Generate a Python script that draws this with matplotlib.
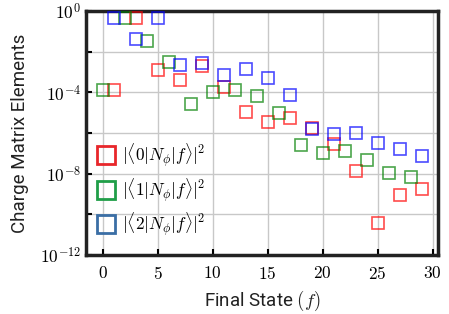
import matplotlib.pyplot as plt
from matplotlib.lines import Line2D
import numpy as np

plt.rcParams.update({'font.family': 'Roboto', 'mathtext.fontset': 'cm', 'font.size': 12})

# log10 of the matrix elements
f_red = [1, 3, 5, 7, 9, 11, 13, 15, 17, 19, 21, 23, 25, 27, 29]
log_red = [-3.87, -0.36, -2.89, -3.39, -2.69, -3.75, -4.95, -5.46, -5.26, -5.75,
           -6.56, -7.87, -10.44, -9.05, -8.74]
f_green = [0, 2, 4, 6, 8, 10, 12, 14, 16, 18, 20, 22, 24, 26, 28]
log_green = [-3.87, -0.36, -1.49, -2.51, -4.59, -3.98, -3.87, -4.20, -5.0, -6.59,
             -6.98, -6.87, -7.33, -7.95, -8.18]
f_blue = [1, 3, 5, 7, 9, 11, 13, 15, 17, 19, 21, 23, 25, 27, 29]
log_blue = [-0.36, -1.36, -0.36, -2.67, -2.54, -3.13, -2.84, -3.30, -4.15, -5.82,
            -6.07, -6.0, -6.49, -6.79, -7.15]

labels = [r'$|\langle 0|N_\phi|f\rangle|^2$',
          r'$|\langle 1|N_\phi|f\rangle|^2$',
          r'$|\langle 2|N_\phi|f\rangle|^2$']

fig = plt.figure(figsize=(4.49, 3.14), dpi=100)
ax = fig.add_axes([86/449, 1-255/314, 352/449, 244/314])

for f, lv, c in [(f_red, log_red, 'red'), (f_green, log_green, 'green'), (f_blue, log_blue, 'blue')]:
    ax.plot(f, 10**np.array(lv), 's', ms=8, mfc='none', mec=c, mew=1.2, alpha=0.7, zorder=3)

ax.set_yscale('log')
ax.set_ylim(1e-12, 1)
ax.set_xlim(-1.5, 30.5)
ax.set_xticks(range(0, 31, 5))
ax.set_xticklabels([r'$%d$' % v for v in range(0, 31, 5)])
ax.set_yticks([1e0, 1e-4, 1e-8, 1e-12])
ax.set_yticklabels([r'$10^{0}$', r'$10^{-4}$', r'$10^{-8}$', r'$10^{-12}$'])
ax.set_yticks([1e-2, 1e-6, 1e-10], minor=True)
ax.yaxis.set_tick_params(which='minor', labelleft=False)
ax.grid(True, which='both', color='#c8c8c8', lw=1)
ax.set_axisbelow(True)
ax.tick_params(direction='in', length=4, width=1.5, labelsize=12.5)
ax.tick_params(axis='x', pad=7)
ax.tick_params(which='minor', direction='in', length=4, width=1.5)
for s in ax.spines.values():
    s.set_linewidth(2.5)
    s.set_color('#222222')

ax.set_xlabel(r'Final State $(f)$', fontsize=13.5, color='#222222', labelpad=5)
ax.set_ylabel('Charge Matrix Elements', fontsize=13.5, color='#222222', labelpad=8)

handles = [Line2D([], [], ls='none', marker='s', ms=13, mfc='none', mew=2, mec=c)
           for c in ['#e8262a', '#1f9e48', '#3a6ea5']]
ax.legend(handles, labels, loc='lower left', frameon=False, fontsize=12.5,
          handlelength=1.2, handletextpad=0.3, labelspacing=0.4,
          borderpad=0, borderaxespad=0, bbox_to_anchor=(0.028, 0.07))

fig.savefig('out.png', dpi=100)
